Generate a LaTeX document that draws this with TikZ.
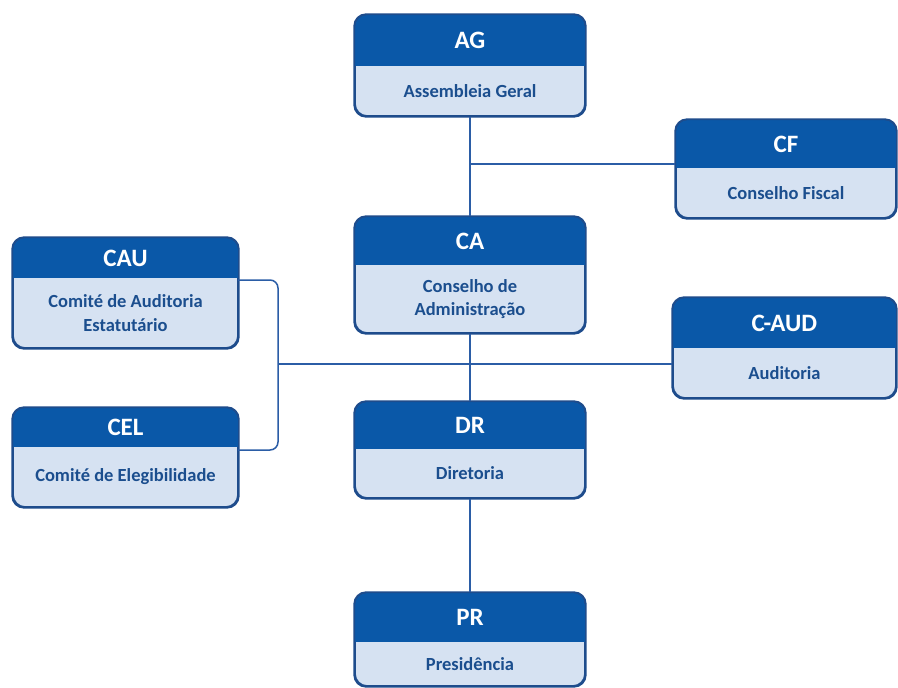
\documentclass[tikz,border=0pt]{standalone}
\usepackage{fontspec}
\setmainfont{Carlito}
\usetikzlibrary{calc}
\usetikzlibrary{fit}
\definecolor{headblue}{HTML}{0A58A8}
\definecolor{bodyblue}{HTML}{D6E2F2}
\definecolor{edgeblue}{HTML}{1E4C8C}
\definecolor{textblue}{HTML}{1B4E8E}
\definecolor{lineblue}{HTML}{2B5DA6}

\tikzset{
  orgframe/.style={draw=edgeblue, line width=1.7pt, rounded corners=12pt, inner sep=0pt},
  headlabel/.style={text=white, font=\fontsize{25}{28}\selectfont\bfseries},
  bodylabel/.style={text=textblue, align=center, font=\fontsize{18.5}{23.5}\selectfont\bfseries},
  link/.style={draw=lineblue, line width=1.5pt}
}

% name, left, top, right, header bottom, bottom, short, long
\newcommand{\orgbox}[8]{
  \node[orgframe, fill=bodyblue, fit={(#2,#3) (#4,#6)}] (#1) {};
  \begin{scope}
    \clip[rounded corners=12pt] (#2,#3) rectangle (#4,#6);
    \fill[headblue] (#2,#3) rectangle (#4,#5);
  \end{scope}
  \draw[orgframe] (#1.north west) rectangle (#1.south east);
  \node[headlabel] (#1-short) at ($(#2,#3)!0.5!(#4,#5)$) {#7};
  \node[bodylabel] (#1-long) at ($(#2,#5)!0.5!(#4,#6)$) {#8};
}

\begin{document}
\begin{tikzpicture}[x=1pt,y=-1pt]
\useasboundingbox[fill=white] (0,0) rectangle (898,688);

\orgbox{ag}{355}{15}{585}{66}{116}{AG}{Assembleia Geral}
\orgbox{cf}{676}{120}{896}{168}{218}{CF}{Conselho Fiscal}
\orgbox{ca}{355}{217}{585}{265}{333}{CA}{Conselho de\\Administração}
\orgbox{cau}{13}{238}{238}{278}{348}{CAU}{Comité de Auditoria\\Estatutário}
\orgbox{caud}{673}{298}{896}{348}{398}{C-AUD}{Auditoria}
\orgbox{dr}{355}{402}{585}{449}{498}{DR}{Diretoria}
\orgbox{cel}{13}{408}{238}{447}{507}{CEL}{Comité de Elegibilidade}
\orgbox{pr}{355}{593}{585}{642}{686}{PR}{Presidência}

\coordinate (fiscal) at (470,164);
\coordinate (audit)  at (278,364);
\coordinate (cautap) at (238,280);
\coordinate (celtap) at (238,450);

\draw[link] (ag) -- (ca);
\draw[link] (ca) -- (dr);
\draw[link] (dr) -- (pr);
\draw[link] (fiscal) -- (fiscal -| cf.west);
\draw[link] (audit) -- (audit -| caud.west);
\draw[link, rounded corners=8pt] (cautap) -| (audit) |- (celtap);
\end{tikzpicture}
\end{document}
